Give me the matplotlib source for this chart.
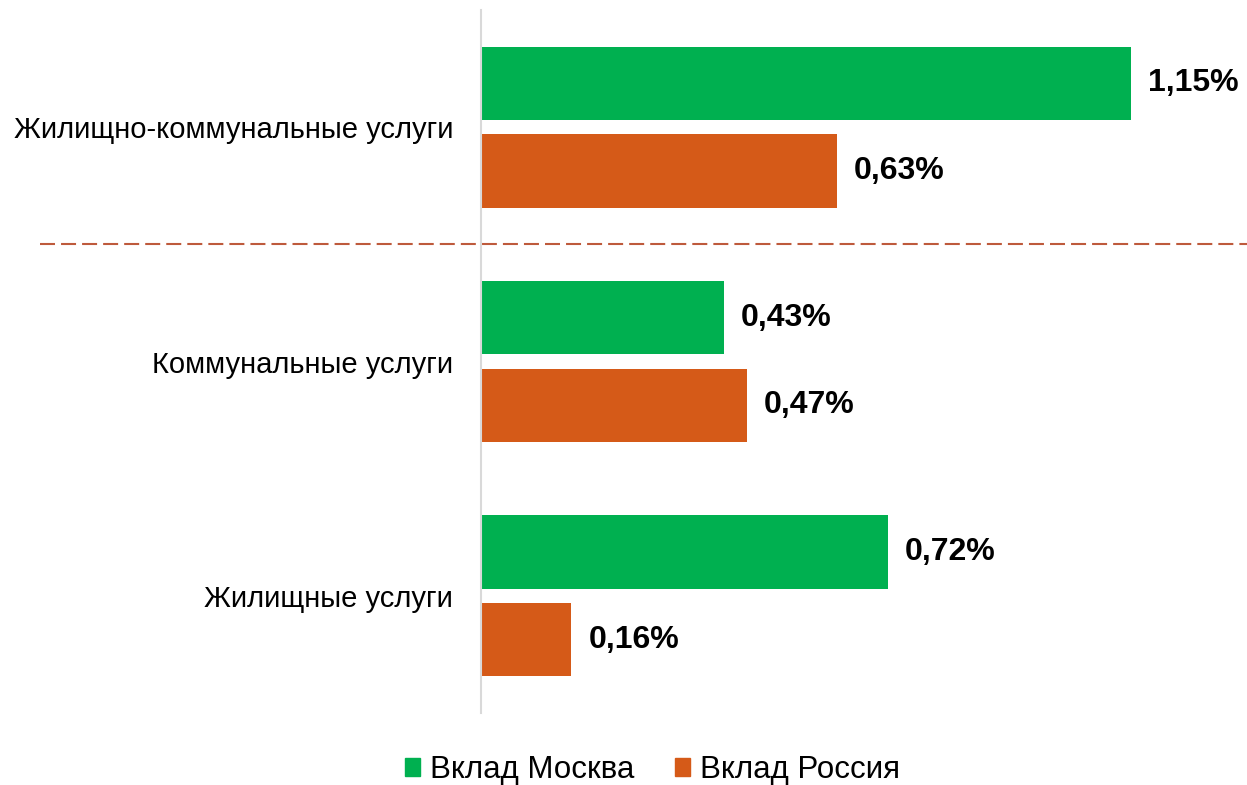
import numpy as np
import matplotlib.pyplot as plt
from matplotlib.lines import Line2D
from matplotlib.patches import Patch
from matplotlib.transforms import blended_transform_factory

plt.rcParams["font.family"] = ["Liberation Sans", "DejaVu Sans"]

categories = ["Жилищно-коммунальные услуги", "Коммунальные услуги", "Жилищные услуги"]
moscow = [1.15, 0.43, 0.72]
russia = [0.63, 0.47, 0.16]
series_names = ["Вклад Москва", "Вклад Россия"]

GREEN = "#00B050"
ORANGE = "#D55A18"

fig = plt.figure(figsize=(12.47, 7.85), dpi=100)
ax = fig.add_axes([481 / 1247, 1 - 713 / 785, 1 - 481 / 1247, 703 / 785])

y = np.arange(len(categories))
h = 0.312
off = 0.187
ax.barh(y - off, moscow, height=h, color=GREEN)
ax.barh(y + off, russia, height=h, color=ORANGE)

for yi, v in zip(y - off, moscow):
    ax.text(v + 0.03, yi, f"{v:.2f}%".replace(".", ","), va="center", ha="left",
            fontsize=23, fontweight="bold")
for yi, v in zip(y + off, russia):
    ax.text(v + 0.03, yi, f"{v:.2f}%".replace(".", ","), va="center", ha="left",
            fontsize=23, fontweight="bold")

ax.set_xlim(0, 1.356)
ax.set_ylim(2.5, -0.5)
ax.set_yticks(y)
ax.set_yticklabels(categories, fontsize=21)
ax.tick_params(axis="y", length=0, pad=20)
ax.set_xticks([])
for side in ["top", "right", "bottom"]:
    ax.spines[side].set_visible(False)
ax.spines["left"].set_color("#D9D9D9")
ax.spines["left"].set_linewidth(1.5)

# dashed separator below the combined category
tr = blended_transform_factory(fig.transFigure, ax.transData)
sep = Line2D([40 / 1247, 1.0], [0.5, 0.5], transform=tr, color="#BE5A3C",
             linewidth=1.5, linestyle=(0, (7.2, 2.9)), clip_on=False)
ax.add_line(sep)

handles = [Patch(color=GREEN), Patch(color=ORANGE)]
fig.legend(handles, series_names, loc="center", bbox_to_anchor=(0.523, 1 - 770 / 785),
           ncol=2, frameon=False, fontsize=22.5, handlelength=0.5, handleheight=0.5,
           handletextpad=0.3, columnspacing=1.3)

fig.savefig("out.png", dpi=100)
